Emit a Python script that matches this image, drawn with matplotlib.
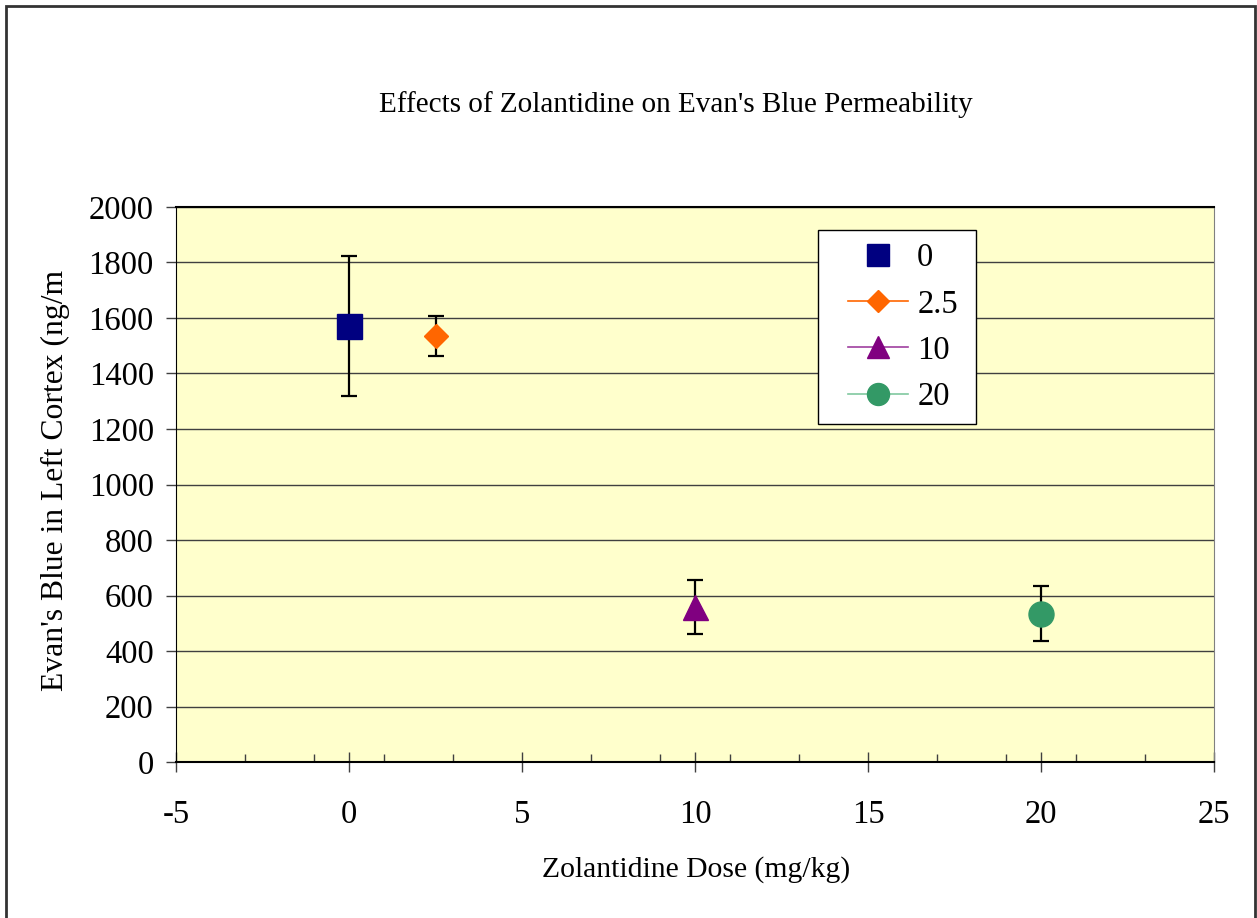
import numpy as np
import matplotlib
matplotlib.use("Agg")
import matplotlib.pyplot as plt
from matplotlib.lines import Line2D
from matplotlib.patches import Rectangle

plt.rcParams['font.family'] = ['Liberation Serif', 'DejaVu Serif']

# data
doses = [0, 2.5, 10, 20]
labels = ['0', '2.5', '10', '20']
means = [1570, 1535, 558, 535]
errs = [252, 72, 97, 98]
colors = ['#000080', '#FF6600', '#800080', '#339966']
line_colors = [None, '#FF6600', '#A040A0', '#80C8A0']
markers = ['s', 'D', '^', 'o']
msizes = [18, 12.5, 18, 18]

W, H = 1257, 918
fig = plt.figure(figsize=(W / 100, H / 100), dpi=100)
ax = fig.add_axes([176/W, 1-762/H, (1214-176)/W, (762-207)/H])
ax.set_facecolor('#FFFFCC')

for i in range(len(doses)):
    ax.errorbar(doses[i], means[i], yerr=errs[i], fmt='none', ecolor='black',
                elinewidth=1.6, capsize=5.5, capthick=1.6, zorder=3)
    ax.plot(doses[i], means[i], linestyle='none', marker=markers[i],
            markersize=msizes[i], color=colors[i], zorder=4)

ax.set_xlim(-5, 25)
ax.set_ylim(0, 2000)
ax.set_xticks(np.arange(-5, 26, 5))
ax.set_xticks(np.arange(-3, 25, 2), minor=True)
ax.set_yticks(np.arange(0, 2001, 200))
ax.yaxis.grid(True, color='#404040', linewidth=1.0)
ax.set_axisbelow(True)

ax.tick_params(axis='x', which='major', direction='inout', length=14, width=1.0,
               labelsize=23.5, pad=20, color='#404040')
ax.tick_params(axis='x', which='minor', direction='in', length=6, width=1.0, color='#404040')
ax.tick_params(axis='y', which='major', direction='out', length=7, width=1.0,
               labelsize=23.5, pad=9, color='#404040')
ax.set_xticklabels([str(v) for v in range(-5, 26, 5)])

ax.spines['left'].set_color('black')
ax.spines['bottom'].set_color('black')
ax.spines['bottom'].set_linewidth(1.5)
ax.spines['top'].set_color('black')
ax.spines['top'].set_linewidth(1.5)
ax.spines['right'].set_color('#808080')

fig.text(676/W, 1-105/H, "Effects of Zolantidine on Evan's Blue Permeability",
         ha='center', va='center', fontsize=21)
fig.text(696/W, 1-870/H, "Zolantidine Dose (mg/kg)", ha='center', va='center', fontsize=21.3)
fig.text(55/W, 1-480/H, "Evan's Blue in Left Cortex (ng/m", ha='center', va='center',
         rotation=90, fontsize=22.8)

# legend: entries without frame, box drawn separately (uneven padding like the original)
handles = []
for i in range(len(doses)):
    if line_colors[i] is None:
        h = Line2D([], [], linestyle='none', marker=markers[i], markersize=msizes[i] * 0.88,
                   color=colors[i])
    else:
        h = Line2D([], [], color=line_colors[i], linewidth=1.2, marker=markers[i],
                   markersize=msizes[i] * 0.88, markerfacecolor=colors[i],
                   markeredgecolor=colors[i])
    handles.append(h)
leg = fig.legend(handles, labels, loc='upper left', bbox_to_anchor=(848/W, 1-243/H),
                 fontsize=23.5, frameon=False, handlelength=1.84, labelspacing=0.48,
                 borderpad=0, handletextpad=0.28, borderaxespad=0)
leg.set_zorder(6)
fig.patches.append(Rectangle((818/W, 1-424/H), (976-818)/W, (424-230)/H,
                             transform=fig.transFigure, facecolor='white',
                             edgecolor='black', linewidth=1.0, zorder=5))

fig.patches.append(Rectangle((6/W, -0.02), (1255-6)/W, 1.02 - 6/H,
                             transform=fig.transFigure, fill=False,
                             edgecolor='#333333', linewidth=2.0))

fig.savefig('out.png', dpi=100)
